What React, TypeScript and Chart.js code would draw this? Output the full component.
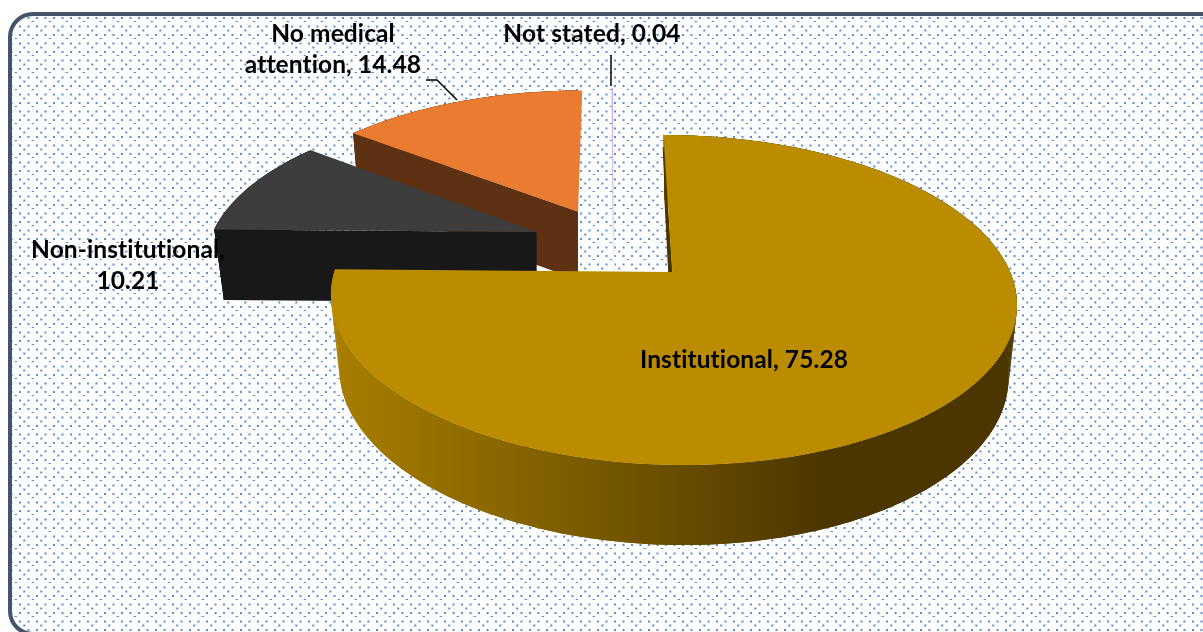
import React, { useEffect, useRef } from "react";
import { Chart, registerables } from "chart.js";

Chart.register(...registerables);

const categories = ["Institutional", "Non-institutional", "No medical attention", "Not stated"];
const values = [75.28, 10.21, 14.48, 0.04];
const faceColors = ["#BB8C00", "#3D3D3D", "#E97C30", "#C9ABF5"];
const wallColors = ["#4C3600", "#181818", "#5E3113", "#F3F2FA"];
const paintOrder = [3, 2, 1, 0];

// [text lines, centre x, first-line centre y]
const labelLayout: [string[], number, number][] = [
  [["No medical", "attention, 14.48"], 333, 34],
  [["Not stated, 0.04"], 592, 34],
  [["Non-institutional,", "10.21"], 128, 250],
  [["Institutional, 75.28"], 744, 360],
];
const leaders: number[][][] = [
  [[426, 80], [437, 80], [457, 100]],
  [[611, 55], [611, 86]],
];

// Projection of the pie's plane onto the screen (camera tilted towards the viewer)
const TOP = { cx: 613, cy: 244.3, a: 328, b: 151, q: 0.1647 };
const BOTTOM = { cx: 614.5, cy: 244.5, a: 338, b: 155.5, q: 0.1647, e: 0.053, h: 74.9 };

const projTop = (u: number, v: number): [number, number] => {
  const w = 1 + TOP.q * v;
  return [TOP.cx + (TOP.a * u) / w, TOP.cy - (TOP.b * v) / w];
};
const projBottom = (u: number, v: number): [number, number] => {
  const w = 1 + BOTTOM.q * v + BOTTOM.e;
  return [BOTTOM.cx + (BOTTOM.a * u) / w, BOTTOM.cy + (-BOTTOM.b * v + BOTTOM.h) / w];
};

function makeDots(): HTMLCanvasElement {
  const t = document.createElement("canvas");
  t.width = 17;
  t.height = 17;
  const c = t.getContext("2d")!;
  c.fillStyle = "#ffffff";
  c.fillRect(0, 0, 17, 17);
  const dot = (x: number, y: number, w = 2, h = 2) => {
    c.fillStyle = "#5F8FCB";
    c.fillRect(x - w / 2, y - h / 2, w, h);
  };
  [3, 11.5].forEach((x) => [1, 9.5].forEach((y) => dot(x, y)));
  dot(7.3, 13.5);
  dot(15.8, 4.5, 2.4, 1);
  return t;
}

const pie3d = {
  id: "pie3d",
  beforeDraw(chart: any) {
    const ctx = chart.ctx;
    ctx.save();
    ctx.fillStyle = "#ffffff";
    ctx.fillRect(0, 0, chart.width, chart.height);
    ctx.beginPath();
    ctx.roundRect(10, 14, 1260, 620, 23);
    ctx.fillStyle = ctx.createPattern(makeDots(), "repeat");
    ctx.fill();
    ctx.lineWidth = 4;
    ctx.strokeStyle = "#44546A";
    ctx.stroke();
    ctx.restore();
  },
  beforeDatasetsDraw(chart: any) {
    const ctx = chart.ctx;
    const arcs = chart.getDatasetMeta(0).data;
    paintOrder.forEach((i) => {
      const el = arcs[i];
      const R = el.outerRadius;
      const mid = (el.startAngle + el.endAngle) / 2;
      const off = el.options.offset / R;
      const ou = Math.cos(mid) * off;
      const ov = -Math.sin(mid) * off;
      const n = Math.max(2, Math.ceil((el.endAngle - el.startAngle) * 40));
      const rim: [number, number][] = [];
      for (let k = 0; k <= n; k++) {
        const t = el.startAngle + ((el.endAngle - el.startAngle) * k) / n;
        rim.push([ou + Math.cos(t), ov - Math.sin(t)]);
      }
      const topRim = rim.map((p) => projTop(p[0], p[1]));
      const botRim = rim.map((p) => projBottom(p[0], p[1]));
      const apexT = projTop(ou, ov);
      const apexB = projBottom(ou, ov);
      ctx.save();

      if (values[i] < 1) {
        const g = ctx.createLinearGradient(0, topRim[0][1], 0, apexB[1]);
        g.addColorStop(0, faceColors[i]);
        g.addColorStop(0.6, "#D8D0EC");
        g.addColorStop(1, wallColors[i]);
        ctx.strokeStyle = g;
        ctx.lineWidth = 1.5;
        ctx.beginPath();
        ctx.moveTo(topRim[0][0], topRim[0][1]);
        ctx.lineTo(apexT[0], apexT[1]);
        ctx.lineTo(apexB[0], apexB[1]);
        ctx.stroke();
        ctx.restore();
        return;
      }

      let wall: any = wallColors[i];
      if (i === 0) {
        wall = ctx.createLinearGradient(335, 0, 1016, 0);
        wall.addColorStop(0, "#A87E00");
        wall.addColorStop(0.33, "#7E5E00");
        wall.addColorStop(0.72, wallColors[0]);
        wall.addColorStop(1, wallColors[0]);
      }
      ctx.fillStyle = wall;

      ctx.save();
      if (i !== 0) {
        // walls of the back slices stop at the slice's apex
        ctx.beginPath();
        ctx.rect(0, 0, apexT[0], chart.height);
        ctx.clip();
      }
      // outer curved wall, swept segment by segment so that its silhouette is the full hull
      for (let k = 0; k < n; k++) {
        ctx.beginPath();
        ctx.moveTo(topRim[k][0], topRim[k][1]);
        ctx.lineTo(topRim[k + 1][0], topRim[k + 1][1]);
        ctx.lineTo(botRim[k + 1][0], botRim[k + 1][1]);
        ctx.lineTo(botRim[k][0], botRim[k][1]);
        ctx.closePath();
        ctx.fill();
      }
      ctx.beginPath();
      topRim.forEach((p, k) => (k ? ctx.lineTo(p[0], p[1]) : ctx.moveTo(p[0], p[1])));
      botRim.slice().reverse().forEach((p) => ctx.lineTo(p[0], p[1]));
      ctx.closePath();
      ctx.fill();

      // the front cut wall
      ctx.beginPath();
      ctx.moveTo(apexT[0], apexT[1]);
      ctx.lineTo(topRim[0][0], topRim[0][1]);
      ctx.lineTo(botRim[0][0], botRim[0][1]);
      ctx.lineTo(apexB[0], apexB[1]);
      ctx.closePath();
      ctx.fill();
      ctx.restore();

      if (i === 0) {
        // thin shaded inner wall seen beside the first cut
        ctx.fillStyle = wallColors[0];
        ctx.beginPath();
        ctx.moveTo(topRim[0][0], topRim[0][1] + 12);
        ctx.lineTo(apexT[0], apexT[1]);
        ctx.lineTo(apexT[0] - 4, apexT[1]);
        ctx.lineTo(topRim[0][0] - 1, topRim[0][1] + 12);
        ctx.closePath();
        ctx.fill();
      }

      // top face
      ctx.fillStyle = faceColors[i];
      ctx.beginPath();
      ctx.moveTo(apexT[0], apexT[1]);
      topRim.forEach((p) => ctx.lineTo(p[0], p[1]));
      ctx.closePath();
      ctx.fill();
      ctx.restore();
    });
    return false;
  },
  afterDraw(chart: any) {
    const ctx = chart.ctx;
    ctx.save();
    ctx.strokeStyle = "#000000";
    ctx.lineWidth = 1.5;
    leaders.forEach((pts) => {
      ctx.beginPath();
      pts.forEach((p, k) => (k ? ctx.lineTo(p[0], p[1]) : ctx.moveTo(p[0], p[1])));
      ctx.stroke();
    });
    ctx.fillStyle = "#000000";
    ctx.font = "bold 24.5px Lato";
    ctx.letterSpacing = "0.1px";
    ctx.textAlign = "center";
    ctx.textBaseline = "middle";
    labelLayout.forEach(([lines, x, y]) => {
      lines.forEach((line, k) => ctx.fillText(line, x, y + k * 31.5));
    });
    ctx.restore();
  },
};

export default function App() {
  const ref = useRef<HTMLCanvasElement>(null);
  useEffect(() => {
    const chart = new Chart(ref.current!, {
      type: "pie",
      data: {
        labels: categories,
        datasets: [
          {
            data: values,
            backgroundColor: faceColors,
            borderWidth: 0,
            offset: 70,
          },
        ],
      },
      options: {
        animation: false,
        responsive: false,
        radius: 280,
        rotation: 0,
        plugins: { legend: { display: false }, tooltip: { enabled: false } },
      } as any,
      plugins: [pie3d],
    });
    return () => chart.destroy();
  }, []);
  return (
    <div style={{ position: "fixed", left: 0, top: 0, width: 1203, height: 632 }}>
      <canvas ref={ref} width={1203} height={632} style={{ display: "block" }} />
    </div>
  );
}
